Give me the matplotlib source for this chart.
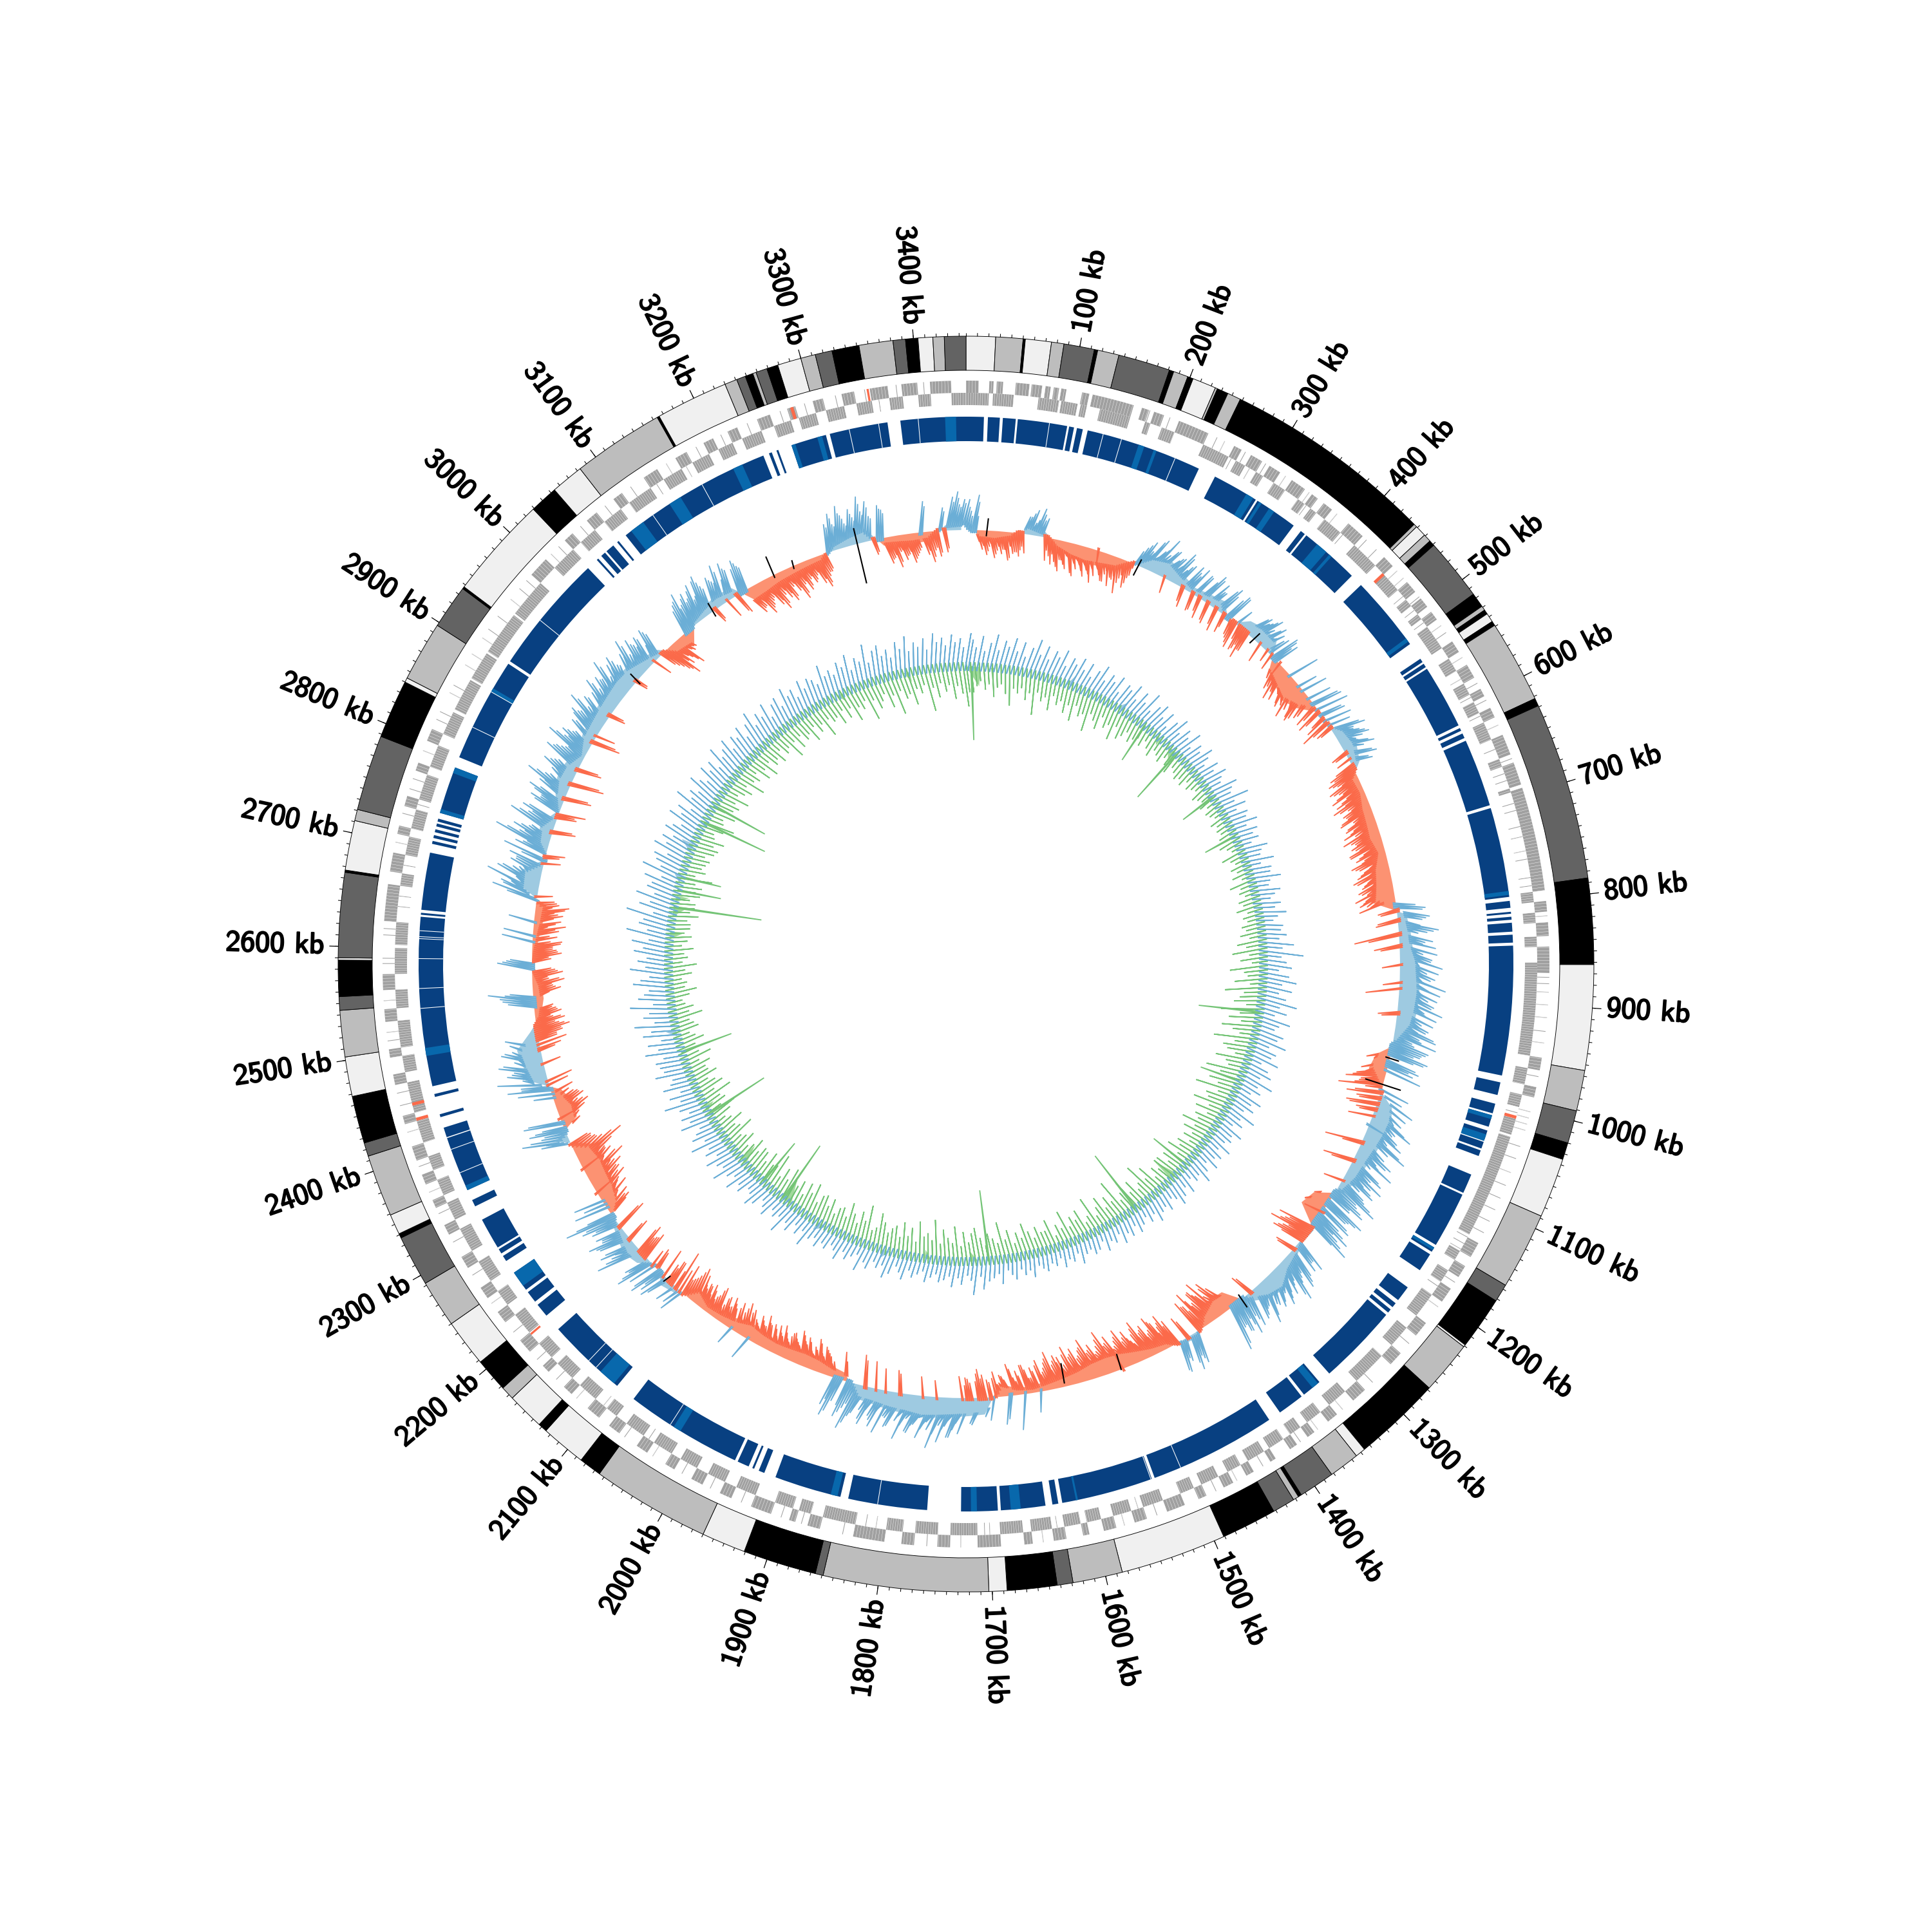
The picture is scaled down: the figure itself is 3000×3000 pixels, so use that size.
import numpy as np
import matplotlib
matplotlib.use('Agg')
import matplotlib.pyplot as plt
import matplotlib.patheffects as pe
from matplotlib.collections import PolyCollection

GENOME_KB = 3446.0
KB_PER_DEG = GENOME_KB / 360.0

# outer ring: segment ends (kb) and tone
seg_ends = [26,50,52,75,86,113,116,135,181,185,198,203,224,226,236,248,436,439,449,456,461,516,529,533,537,545,549,
            622,629,786,862,955,991,1020,1035,1088,1156,1172,1219,1221,1268,1346,1355,1382,1414,1417,1422,1442,1491,
            1585,1629,1643,1687,1703,1849,1856,1921,1960,2065,2085,2125,2133,2166,2178,2208,2250,2292,2337,2341,2359,
            2414,2426,2468,2503,2544,2556,2588,2590,2665,2667,2711,2721,2788,2840,2844,2897,2936,2938,3029,3054,3083,
            3164,3166,3230,3241,3249,3256,3259,3269,3279,3300,3313,3328,3352,3382,3393,3404,3417,3427,3446]
seg_tone = ['L','M','K','L','M','D','K','M','D','K','M','K','L','M','K','M','K','M','L','M','K','D','K','M','K','L','K',
            'M','K','D','K','L','M','D','K','L','M','D','K','L','M','K','L','M','D','K','M','D','K',
            'L','M','D','K','L','M','D','K','L','M','K','L','K','L','M','K','L','M','D','K','L',
            'M','D','K','L','M','D','K','L','D','K','L','M','D','K','L','M','D','K','L','K','L',
            'M','K','L','M','D','K','M','D','K','L','M','D','K','M','D','K','L','M','D']
tone_colors = {'L': '#f0f0f0', 'M': '#bdbdbd', 'D': '#636363', 'K': '#000000'}

# gene track, outer and inner strand blocks (kb)
gene_out = [(0,12),(22,26),(29,35),(47,60),(62,72),(75,80),(83,88),(90,95),(110,117),(120,160),(168,175),(180,190),(205,235),
            (262,270),(280,292),(300,312),(325,340),(348,355),(362,372),(392,410),(438,450),(470,482),(490,500),(506,515),
            (540,552),(566,580),(592,600),(612,622),(640,660),(668,690),(693,792),(802,812),(822,835),(845,870),
            (950,962),(978,988),(1135,1150),(1160,1172),
            (1185,1200),(1225,1240),(1262,1276),(1310,1325),(1345,1356),(1372,1380),(1392,1400),(1416,1422),(1440,1448),(1462,1472),
            (1490,1498),(1512,1530),(1550,1562),(1580,1592),(1606,1612),(1628,1640),(1660,1668),(1690,1712),(1738,1750),(1772,1784),
            (1800,1830),(1862,1874),(1886,1892),(1910,1930),(1950,1962),(1980,1992),(2010,2020),(2040,2052),(2072,2084),(2096,2110),
            (2130,2140),(2160,2168),(2186,2200),(2222,2234),(2250,2262),(2284,2296),(2320,2330),(2348,2356),(2372,2382),(2396,2410),
            (2432,2440),(2470,2480),(2496,2504),(2530,2542),(2560,2575),(2625,2660),(2672,2690),(2708,2716),(2735,2745),
            (2770,2778),(2800,2812),(2985,3005),(3030,3040),(3058,3070),(3090,3100),
            (3125,3140),(3160,3172),(3190,3200),(3215,3225),(3245,3258),(3275,3283),(3300,3310),(3328,3340),(3355,3372),(3385,3400),
            (3412,3432)]
gene_in = [(0,22),(26,46),(70,90),(92,108),(111,117),(130,160),(175,180),(192,205),(235,262),(270,280),(292,300),(312,325),
           (340,348),(355,362),(372,392),(410,438),(450,470),(482,490),(500,506),(515,540),(552,566),(580,592),(600,612),(622,640),
           (660,668),(690,694),(792,802),(812,822),(835,845),(860,950),(962,978),(988,1000),
           (1012,1028),(1030,1132),(1150,1160),(1172,1185),(1200,1225),(1240,1262),(1276,1310),(1325,1345),(1356,1372),(1380,1392),
           (1400,1416),(1422,1440),(1448,1462),(1472,1490),(1498,1512),(1530,1550),(1562,1580),(1592,1606),(1612,1628),(1640,1660),
           (1668,1690),(1712,1738),(1750,1772),(1784,1800),(1830,1862),(1874,1886),(1892,1910),(1930,1950),(1962,1980),(1992,2010),
           (2020,2040),(2052,2072),(2084,2096),(2110,2130),(2140,2160),(2168,2186),(2200,2222),(2234,2250),(2262,2284),(2296,2320),
           (2330,2348),(2356,2372),(2382,2396),(2410,2432),(2440,2470),(2480,2496),(2504,2530),(2542,2560),(2575,2600),(2603,2625),
           (2660,2672),(2690,2708),(2716,2735),(2745,2770),(2778,2800),(2812,2835),(2838,2870),(2872,2900),(2902,2945),(2947,2985),
           (3005,3030),(3040,3058),(3070,3090),(3100,3125),(3140,3160),(3172,3190),(3200,3215),(3225,3245),(3258,3275),(3283,3300),
           (3310,3328),(3340,3355),(3372,3385),(3400,3412),(3432,3446)]
gene_thin_out = [170,176,196,244,252,274,296,318,345,378,415,428,456,465,488,522,530,558,586,604,630,664,806,816,874,880,888,900,
                 912,925,936,968,1002,1008,1014,1020,1036,1048,1062,1075,1088,1100,1112,1124,1178,1206,1250,1300,1338,1368,1388,
                 1430,1458,1480,1540,1572,1650,1728,1760,1840,1880,1900,1940,1972,2002,2034,2066,2124,2150,2176,2210,2244,2276,
                 2312,2342,2364,2390,2424,2450,2462,2512,2520,2550,2585,2590,2612,2618,2700,2728,2752,2762,2790,2822,2830,2850,
                 2858,2880,2892,2910,2920,2935,2955,2968,2978,3012,3022,3050,3080,3110,3150,3182,3208,3235,3268,3292,3322,3350,
                 3380,3406]
gene_thin_in = [180,200,245,255,265,285,320,345,350,395,425,435,465,478,495,510,535,560,575,595,615,635,650,675,682,705,712,728,
                738,752,760,778,786,1000,1006,1135,1142,1148,1190,1212,1245,1295,1330,1335,1365,1405,1430,1455,1505,1535,1555,
                1570,1598,1635,1678,1700,1705,1760,1790,1810,1820,1880,1905,1938,1972,2030,2046,2060,2100,2125,2178,2242,2270,
                2305,2310,2340,2390,2425,2455,2465,2520,2590,2615,2640,2650,2680,2700,2740,2790,2825,2880,3020,3050,3080,3132,
                3165,3205,3235,3292,3362,3405]
gene_orange = [(3278,3281,1),(3352,3354,1),(2447,2450,0),(2432,2435,0),(2197,2199,0),(1009,1012,0),(448,451,0)]

# blue track
blue_dark = [(0,18),(22,34),(37,50),(52,102),(104,109),(112,118),(123,241),(259,306),(308,352),(361,366),(368,429),(442,519),
             (537,541),(543,547),(549,614),(617,620),(623,628),(631,700),(703,794),(798,805),(809,811),(814,817),(820,829),
             (832,840),(843,974),(981,994),(1003,1013),(1015,1027),(1031,1040),(1043,1050),(1052,1058),(1078,1098),(1100,1157),
             (1160,1165),(1168,1187),(1208,1224),(1228,1233),(1236,1240),(1243,1325),(1338,1358),(1361,1388),(1401,1530),(1533,1626),
             (1630,1636),(1643,1688),(1691,1728),(1762,1842),(1850,1918),(1930,1936),(1941,1943),(1947,1959),(1962,2081),(2102,2184),
             (2202,2216),(2220,2232),(2235,2256),(2270,2276),(2279,2284),(2286,2318),(2333,2340),(2351,2407),(2408,2418),(2429,2432),
             (2450,2453),(2461,2632),(2634,2636),(2639,2697),(2706,2709),(2712,2715),(2718,2721),(2724,2727),(2729,2732),(2738,2786),
             (2797,2903),(2906,3028),(3040,3042),(3046,3051),(3053,3062),(3067,3069),(3078,3238),(3244,3247),(3252,3254),(3268,3304),
             (3308,3367),(3380,3446)]
blue_light = [(176,182),(192,195),(295,303),(310,313),(322,328),(382,394),(398,401),(512,516),(788,792),(1015,1019),(1035,1042),
              (1160,1163),(1340,1347),(1610,1612),(1668,1678),(1712,1718),(1853,1860),(2024,2032),(2106,2124),(2240,2256),(2351,2356),
              (2492,2500),(2738,2742),(2780,2786),(2870,2874),(3085,3100),(3132,3145),(3205,3215),(3268,3272),(3295,3300),(3425,3436)]
blue_white = [84,139,158,215,1502,1534,1812,2036,2130,2140,2370,2395,2540,2560,2590,2610,2612,2618,2830,2870,2957,3112,3170,3328,3358,3398]

# middle track: peak every 5 kb (outward positive, inward negative)
mid_peak = [48,30,55,22,-30,-38,-25,-42,-30,-35,-28,-40,-33,-30,-26,-30,28,40,25,35,
            30,-20,-40,-35,-48,-30,-42,-25,-50,-38,-30,-46,-35,-52,-40,-28,-44,-32,-48,-36,
            -55,-30,-42,-25,-8,32,45,28,55,38,62,30,48,35,42,55,28,40,-30,35,
            45,-25,38,-32,50,-28,42,30,-35,48,-30,36,44,-28,-40,-22,-34,-45,-30,42,
            38,50,-30,45,36,30,-25,42,38,-20,-38,-55,-40,48,-35,-50,-42,-58,40,-48,
            -45,-38,42,-40,50,-30,38,-35,-48,35,-20,52,30,45,38,28,50,-25,40,-22,
            35,-42,-48,-35,-52,-38,-45,-30,-50,-58,-35,-46,-40,-55,-32,-50,-44,-38,-60,-42,
            -50,-38,-55,-42,-35,-58,-46,-40,-52,-60,-38,-48,-55,-42,-62,-50,-45,-58,45,-30,
            50,38,-35,62,44,-70,52,36,-40,58,30,48,66,-28,42,55,34,72,46,-52,
            60,38,52,70,44,-30,58,36,48,62,40,68,34,54,46,60,38,-24,50,42,
            56,-45,-60,-38,-68,46,-52,-35,60,-42,-30,48,-38,70,40,52,62,36,75,-58,
            44,60,36,68,-48,52,40,64,34,56,-30,48,72,42,58,36,66,44,-35,54,
            38,62,46,70,-55,-42,-62,-38,-50,54,36,-32,48,62,40,72,34,52,44,60,
            36,54,46,30,66,38,50,-35,42,60,32,48,38,70,-48,-62,-40,-70,-52,-58,
            -38,-65,-45,-55,42,56,-30,36,50,-42,-55,-38,-48,-60,-35,-52,-42,-64,-45,-36,
            -55,-40,-62,-46,-34,-58,-44,-70,-48,-36,-54,-42,-66,-50,-38,-56,-44,-62,-34,-48,
            -52,-38,-60,-44,-30,-50,32,-40,-24,-46,55,-38,-28,-50,44,-32,-22,-40,36,-28,
            -36,-45,-26,40,-30,-20,-34,50,62,45,70,38,80,52,42,66,-30,48,58,36,
            72,44,-35,56,40,68,34,50,-42,60,38,-48,52,74,42,58,-30,36,62,46,
            -20,-34,-42,-30,-50,-36,-28,-46,-38,-52,-32,-44,-36,-30,-48,-34,-26,-42,-38,-50,
            -32,-44,-30,36,-40,-52,-34,-46,28,-38,-30,-42,-26,-50,-34,-24,-44,-38,-30,-48,
            -56,-40,-30,-48,-36,-62,34,-38,-28,46,40,52,-30,44,60,36,-44,-34,-48,70,
            42,56,-38,48,62,36,-50,44,56,78,40,-42,52,34,46,-32,-42,-56,-36,-48,
            -60,-44,-70,-38,-54,-46,-62,-82,-50,-40,-35,45,72,40,56,34,60,-32,-44,-52,
            -36,-48,-40,30,52,66,44,78,38,60,48,70,-28,36,62,44,-34,-44,-30,-40,
            -52,-36,-46,-28,-42,-34,-30,48,70,36,-44,-32,-50,-26,-48,-36,54,40,-30,-46,
            -38,-32,-46,48,-26,-40,-50,-34,40,-44,-30,-52,-36,-28,72,56,44,84,40,62,
            36,52,44,-26,68,-30,40,88,50,62,38,-36,74,46,58,-30,-42,52,36,60,
            -42,48,72,44,-52,38,56,40,-38,62,48,34,70,44,52,36,-44,46,-30,56,
            42,68,36,50,-26,44,62,38,54,44,70,36,52,60,40,-20,48,66,36,56,
            42,50,-30,52,40,-32,-46,-60,-44,-36,-52,-30,-26,46,60,38,52,40,58,36,
            64,44,-24,50,40,62,-30,58,44,-34,52,40,-46,-38,-54,-42,-32,-48,-58,-36,
            -44,-52,-30,-40,-56,-34,-46,-30,-38,-28,-44,-52,-36,-30,44,58,40,66,50,36,
            56,42,72,48,62,38,-24,52,44,-42,-34,-50,-26,-40,-32,-46,-36,-28,48,-36,
            -48,-30,-40,36,-34,52,60,40,48]
# second set of peaks, halfway between the ones above
mid_peak2 = [36,22,44,-18,-24,-32,-20,-36,-24,-28,-44,-22,-30,-36,-20,28,34,20,44,26,
             -36,-28,-24,-42,-30,-36,-22,-46,-30,-24,-38,-28,-40,-30,-22,-36,-44,-26,-34,-30,
             -38,-24,-34,-20,24,38,30,50,26,42,36,46,-24,40,30,48,36,-22,44,30,
             -28,40,-22,36,44,-32,30,-26,42,36,-20,46,-24,-34,30,-38,-26,-30,38,34,
             44,32,38,24,-18,36,46,30,-30,-44,-32,-40,-50,-34,-46,-38,30,-42,-36,-52,
             36,-32,46,-28,-42,34,-24,42,-30,-26,44,32,38,50,26,42,32,-20,46,30,
             -30,-36,-42,-28,-46,-32,-54,-40,-36,-48,-30,-42,-52,-34,-46,-38,-56,-32,-48,-40,
             -44,-56,-34,-48,-40,-52,-30,-46,-36,-54,-44,-34,-50,-38,-46,-56,-40,30,40,-26,
             44,-32,34,54,30,-48,40,56,-30,36,50,42,30,60,36,48,40,-26,64,38,
             46,56,32,42,62,-24,40,52,36,66,44,30,58,48,36,54,-36,44,34,-40,
             -32,-50,-36,-44,-26,-40,38,-30,-48,52,-24,36,58,44,30,50,38,64,46,-30,
             38,52,42,30,-34,58,36,46,50,32,44,62,38,52,34,-28,56,40,48,-30,
             50,34,56,42,-36,-48,-30,-44,-34,36,48,-28,56,34,46,62,40,30,52,38,
             48,30,42,56,36,46,-30,54,34,44,50,36,62,-30,-40,-54,-34,-48,-60,-42,
             -50,-34,-46,50,36,44,-38,30,46,-34,-44,-28,-52,-40,-30,-46,-36,-54,-30,-42,
             -46,-34,-52,-38,-28,-48,-36,-58,-40,-30,-46,-34,-54,-42,-30,-48,-36,-50,-28,-40,
             -44,-30,-50,-36,-26,-42,-34,-24,-38,-46,-30,-22,-42,36,-26,-34,-20,-30,-24,30,
             -30,-38,42,-24,-32,56,40,62,36,50,44,58,-26,40,52,34,46,60,38,50,
             36,-30,54,42,30,-34,60,44,36,52,-40,46,64,34,50,40,-44,54,36,-24,
             -30,-38,-26,-44,-32,-24,-40,-34,-46,-28,-36,-42,-26,-38,-30,-44,-36,-22,-40,-32,
             -38,-26,-34,-46,-30,-42,-24,-36,-32,-46,-28,-38,-20,-44,-30,-36,-26,-40,-34,-24,
             -48,-34,-26,40,30,-28,-38,-24,36,-46,30,44,-34,-26,50,40,-36,-30,-40,54,
             34,46,-30,52,38,44,-42,36,48,60,-34,-36,-44,-30,-50,-38,-28,-46,-52,-34,
             -50,-38,-58,-32,-46,-40,-54,-66,-42,-34,-30,36,58,34,46,-30,52,-26,-38,-44,
             -30,-42,-34,-28,-36,44,-32,-40,36,52,38,62,44,34,56,-24,46,52,-30,-38,
             -44,-30,-40,-24,-36,-28,40,52,44,-26,-36,-30,-42,-24,-40,-30,46,34,-26,-40,
             -32,-44,-28,-38,46,-34,-22,-42,-30,-36,-46,-26,-32,48,-24,60,50,38,70,46,
             30,44,56,38,-22,52,34,70,42,50,34,-30,60,40,48,-26,44,36,50,42,
             -36,40,58,36,-44,32,46,34,-32,52,40,30,58,38,44,32,-36,40,50,46,
             36,56,30,44,-22,38,52,32,46,36,58,30,44,50,36,-18,40,54,32,46,
             36,44,28,46,-26,-38,-50,-36,-30,-44,-26,-24,38,50,34,46,36,50,32,58,
             52,38,-20,44,36,50,34,48,-30,40,46,36,-40,-32,-46,-36,-28,-42,-50,-30,
             -38,-46,-26,-36,-48,-30,-40,-26,-34,-24,-38,-46,-30,-26,38,50,36,54,44,32,
             48,36,60,42,52,34,-20,46,38,-36,-30,-42,-24,-34,-28,-40,-32,-24,40,-30,
             -40,-26,-34,30,-28,44,50,36,42]
# fill under the peaks, one value per 20 kb
mid_band = [12,-14,-16,-10,14, 8,-14,-22,-25,-22, -18,0,22,28,18, 10,14,18,-6,18,
            24,22,-20,-28,-35, -25,-3,-3,18,22, 14,-14,-12,-18,-20, -22,-16,-26,-30,-35,
            14,18,20,28,30, 32,30,26,10,-22, -28,-8,24,32,30, 26,22,20,12,-28,
            -35,6,4,12,18, 32,26,10,-28,-30, -18,8,6,-12,-16, -22,-28,-30,-28,-22,
            -18,-14,-10,-12,-20, 26,28,30,32,34, 30,28,24,22,-12, -16,-22,-24,-22,-20,
            -22,-26,-18,-14,-12, -22,8,14,-8,16, 22,14,6,-22,-30, -32,-34,-28,20,-25,
            -28,-16,26,32,36, 10,-10,-16,-14,-4, -6,-10,-14,-16,28, 30,-4,18,22,4,
            16,24,22,10,20, 22,24,26,28,26, 18,10,-18,-22,8, 14,18,14,-24,-22,
            -18,-16,-14,-12,10, 16,20,-12,-14,-16, -14,8,10]
mid_black = [(26,-8,18),(223,-16,10),(397,-8,12),(981,-6,14),(1015,-28,28),(1345,-8,14),(1521,-24,0),(1595,-36,-6),
             (2139,-6,6),(2974,-6,14),(3104,-8,14),(3194,-4,30),(3221,-4,8),(3306,-62,24)]

# inner track: peak every 8 kb
inner_up = [42,30,48,25,38,52,28,44,35,50,30,46,24,40,55,32,48,28,44,36,50,26,42,34,47,
            30,44,24,38,50,28,42,33,46,22,40,35,48,26,44,30,52,24,38,46,28,42,20,36,48,
            26,40,30,46,22,36,28,44,32,20,38,26,42,30,24,46,34,28,52,26,40,22,36,30,44,
            24,38,28,34,20,42,30,26,44,22,36,32,46,28,24,40,30,22,36,26,42,28,20,34,30,
            38,26,48,30,62,28,36,44,24,40,52,30,46,26,38,56,30,42,24,50,34,28,44,36,52,
            26,40,34,48,22,36,44,28,52,30,38,24,46,32,40,26,50,28,36,22,44,30,34,26,42,
            24,36,28,40,22,32,44,26,30,20,38,24,34,42,28,22,36,26,30,40,24,32,20,28,36,
            22,34,26,38,20,30,24,36,18,28,32,22,26,38,20,30,24,34,18,28,22,32,26,20,36,
            24,30,20,34,26,18,38,22,28,32,44,24,52,30,22,36,26,40,24,30,34,22,28,36,20,
            26,32,22,38,28,20,34,42,24,30,22,36,28,44,20,26,34,24,40,28,22,32,26,36,24,
            30,46,24,34,22,38,28,50,26,32,24,40,30,22,36,44,28,24,38,30,46,26,34,52,30,
            36,48,26,40,30,54,28,44,34,24,50,32,42,26,38,58,30,44,24,48,34,28,52,36,40,
            44,30,56,34,48,26,52,38,62,30,46,36,64,28,50,40,32,56,44,30,60,36,48,34,54,
            40,58,32,68,36,50,44,72,30,54,38,62,34,48,42,56,30,64,36,46,52,32,58,40,50,
            34,52,42,30,56,38,48,28,60,36,44,32,54,40,30,50,36,46,28,56,34,42,52,30,46,
            38,50,28,44,58,32,46,36,52,26,42,48,30,54,38,44,28,50,34,46,40,30,56,36,42,
            32,48,38,54,28,44,36,60,30,46,52,34,42,28,50,38,56,32,44,36,48,30,54,40,46,
            34,50,38,44,30,52]
inner_down = [40,40,30,22,35,26,45,30,24,38,55,28,34,25,42,30,62,26,38,30,48,24,36,28,44,
              30,52,26,40,34,58,28,36,46,24,38,30,50,26,42,34,24,36,28,22,30,18,26,34,20,
              24,30,18,26,34,20,24,30,24,30,18,26,20,16,28,22,18,26,16,24,20,14,26,18,22,
              18,24,16,30,20,14,34,22,16,26,18,28,14,36,20,24,16,28,22,34,18,26,20,30,24,
              34,20,40,26,48,22,36,18,52,30,24,44,20,58,28,34,42,22,60,30,46,26,54,36,24,
              62,28,44,36,22,50,32,26,58,34,20,46,30,62,24,40,34,54,26,44,22,38,30,52,28,
              42,24,34,20,36,28,44,22,30,38,24,40,40,26,34,20,46,28,58,30,22,42,26,50,34,
              24,62,30,42,26,48,34,22,56,28,20,44,30,38,24,52,26,34,18,46,30,30,40,24,36,
              50,28,38,22,44,30,58,26,34,42,24,36,52,44,30,46,24,54,28,36,48,26,62,30,40,
              34,56,24,44,30,50,26,42,36,28,42,54,30,24,60,34,46,26,38,52,28,40,36,24,44,
              30,44,40,26,52,34,46,24,42,30,36,50,28,42,24,56,34,30,46,26,38,40,28,44,30,
              22,40,30,24,50,32,26,44,28,20,34,46,24,36,30,52,26,44,34,24,42,30,28,38,22,
              44,26,32,24,40,28,20,36,30,24,46,26,34,22,18,30,42,24,28,20,36,26,44,22,30,
              24,38,20,28,34,22,30,30,24,40,26,32,32,22,36,28,36,24,48,20,34,26,30,34,24,
              36,40,30,44,26,22,34,48,28,24,40,20,30,36,26,44,22,30,38,24,50,28,34,22,42,
              28,46,24,36,30,40,22,34,28,50,26,42,24,36,30,46,24,38,28,52,26,34,30,44,24,
              40,26,50,30,36,24,58,28,44,34,24,48,30,62,26,40,34,52,28,36,24,66,30,46,24,
              38,28,50,30,42,62]
# the long inner spikes: kb, size
green_long = [(10,114),(353,63),(431,90),(535,57),(618,52),(950,95),(1083,64),(1267,64),(1390,103),(1681,110),(2086,100),
              (2135,77),(2295,102),(2420,82),(2690,137),(2722,68),(2747,63),(2856,104),(2892,90)]
# wedges of inner fill: start kb, end kb, size
inner_wedge = [(0,26,-30),(46,52,-24),(190,200,18),(410,432,-20),(2068,2090,-42),(2180,2195,-30),(1290,1305,-38),(2630,2645,-22),
               (2672,2690,-18),(2700,2712,-20),(2450,2462,16),(2795,2812,20),(1700,1716,-16),(1788,1800,-14),(1865,1880,14),(1990,2010,14),
               (3200,3212,-14),(3330,3342,-16),(290,305,16),(380,392,-12),(2735,2750,12),(2300,2312,-16)]

tick_major = np.arange(100, 3401, 100)
tick_minor = np.arange(0, 3441, 10)


def th(kb):
    return np.radians(np.asarray(kb, dtype=float) / KB_PER_DEG)


def draw_spikes(ax, kb, vals, base_vals, base_r, pos_col, neg_col, half_width, cross=0.0, lean=8.0):
    # thin triangles from the base to the peak, coloured by their sign
    for sign, (fill_c, line_c) in zip([1, -1], [pos_col, neg_col]):
        polys, xs, ys = [], [], []
        for k, v, b in zip(kb, vals, base_vals):
            if v * sign <= 0:
                continue
            start = b if b * v > 0 and abs(b) < abs(v) else 0
            t0, t1, t2 = th([k - half_width, k + lean * abs(v) / 50.0, k + half_width])
            r0, r1 = base_r + start - sign * cross, base_r + v
            polys.append([(t0, r0), (t1, r1), (t2, r0)])
            xs += [t0, t1, t2, np.nan]
            ys += [r0, r1, r0, np.nan]
        ax.add_collection(PolyCollection(polys, facecolors=fill_c, edgecolors='none', zorder=3))
        ax.plot(xs, ys, color=line_c, lw=0.42, solid_joinstyle='miter', zorder=4)


plt.rcParams['font.family'] = ['cmss10', 'DejaVu Sans']
plt.rcParams['axes.unicode_minus'] = False

fig = plt.figure(figsize=(10, 10), dpi=300)
ax = fig.add_axes([50 / 3000, 53 / 3000, 2900 / 3000, 2900 / 3000], projection='polar')
ax.set_theta_zero_location('N')
ax.set_theta_direction(-1)
ax.set_ylim(0, 1450)
ax.axis('off')

R_OUT, R_IN = 975, 922
GENE_TOP, GENE_MID, GENE_BOT = 906, 887, 868
BLUE_TOP, BLUE_BOT = 850, 812
MID_R, INNER_R = 674, 462

# outer ring
seg_start = [0] + seg_ends[:-1]
ax.bar(th(seg_start), R_OUT - R_IN, width=th(np.array(seg_ends) - np.array(seg_start)), bottom=R_IN, align='edge',
       color=[tone_colors[t] for t in seg_tone], edgecolor='black', linewidth=0.22, zorder=2)

# ticks
ax.vlines(th(tick_minor), R_OUT, R_OUT + 5, color='black', lw=0.25, zorder=2)
ax.vlines(th(tick_major), R_OUT, R_OUT + 14, color='black', lw=0.3, zorder=2)
stroke = [pe.withStroke(linewidth=0.5, foreground='black')]
for kb in tick_major:
    deg = kb / KB_PER_DEG
    if deg < 180:
        ax.text(th(kb), R_OUT + 22, '%d kb' % kb, rotation=90 - deg, ha='left', va='center',
                rotation_mode='anchor', fontsize=11, color='black', path_effects=stroke)
    else:
        ax.text(th(kb), R_OUT + 22, '%d kb' % kb, rotation=270 - deg, ha='right', va='center',
                rotation_mode='anchor', fontsize=11, color='black', path_effects=stroke)

# genes
for blocks, thin, rb, rt in [(gene_out, gene_thin_out, GENE_MID, GENE_TOP), (gene_in, gene_thin_in, GENE_BOT, GENE_MID)]:
    a = np.array(blocks, dtype=float)
    ax.bar(th(a[:, 0]), rt - rb, width=th(a[:, 1] - a[:, 0]), bottom=rb, align='edge', color='#a0a0a0', linewidth=0, zorder=2)
    ax.vlines(th(thin), rb, rt, color='#a0a0a0', lw=0.25, zorder=2)
# white hairlines between the genes of a block
ax.vlines(th(np.arange(0, 3446, 3.0)), GENE_MID, GENE_TOP, color='white', lw=0.1, zorder=2.5)
ax.vlines(th(np.arange(0, 3446, 2.3)), GENE_BOT, GENE_MID, color='white', lw=0.1, zorder=2.5)
for s, e, up_strand in gene_orange:
    rb = GENE_MID if up_strand else GENE_BOT
    ax.bar(th(s), GENE_TOP - GENE_MID, width=th(e - s), bottom=rb, align='edge', color='#fb6a4a', linewidth=0, zorder=3)

# blue track
a = np.array(blue_dark, dtype=float)
ax.bar(th(a[:, 0]), BLUE_TOP - BLUE_BOT, width=th(a[:, 1] - a[:, 0]), bottom=BLUE_BOT, align='edge', color='#084081', linewidth=0, zorder=2)
a = np.array(blue_light, dtype=float)
ax.bar(th(a[:, 0]), BLUE_TOP - BLUE_BOT, width=th(a[:, 1] - a[:, 0]), bottom=BLUE_BOT, align='edge', color='#0868ac', linewidth=0, zorder=2)
ax.vlines(th(blue_white), BLUE_BOT, BLUE_TOP, color='white', lw=0.25, zorder=2)

# middle track
band_kb = np.arange(len(mid_band)) * 20.0
band = np.array(mid_band, dtype=float)
peak_kb = np.r_[np.arange(len(mid_peak)) * 5.0, np.arange(len(mid_peak2)) * 5.0 + 2.5]
peak = np.array(mid_peak + mid_peak2, dtype=float)
ax.fill_between(th(band_kb), MID_R, MID_R + band, where=band >= 0, interpolate=True, color='#9ecae1', lw=0, zorder=2)
ax.fill_between(th(band_kb), MID_R, MID_R + band, where=band <= 0, interpolate=True, color='#fc9272', lw=0, zorder=2)
draw_spikes(ax, peak_kb - 3, peak, np.interp(peak_kb, band_kb, band), MID_R,
            ('#9ecae1', '#6baed6'), ('#fc9272', '#fb6a4a'), 1.0, cross=4.0)
for k, lo, hi in mid_black:
    ax.plot(th([k, k + 1.5]), [MID_R + lo, MID_R + hi], color='black', lw=0.5, zorder=5)

# inner track
up = np.array(inner_up, dtype=float)
down = -np.array(inner_down, dtype=float)
ikb = np.arange(len(inner_up)) * 8.0
long_kb = np.array([g[0] for g in green_long], dtype=float)
long_val = -np.array([g[1] for g in green_long], dtype=float)
draw_spikes(ax, ikb, down, np.zeros(len(down)), INNER_R, ('#a1d99b', '#74c476'), ('#a1d99b', '#74c476'), 0.4, cross=6.0, lean=10.0)
draw_spikes(ax, long_kb, long_val, np.zeros(len(long_val)), INNER_R, ('#a1d99b', '#74c476'), ('#a1d99b', '#74c476'), 1.4, lean=4.0)
draw_spikes(ax, ikb + 4, up, np.zeros(len(up)), INNER_R, ('#9ecae1', '#6baed6'), ('#9ecae1', '#6baed6'), 0.4, cross=6.0, lean=10.0)
for s, e, v in inner_wedge:
    col = '#9ecae1' if v > 0 else '#a1d99b'
    ax.fill(th([s, e, e]), [INNER_R, INNER_R, INNER_R + v], color=col, lw=0, zorder=2)

fig.savefig('out.png', dpi=300)
